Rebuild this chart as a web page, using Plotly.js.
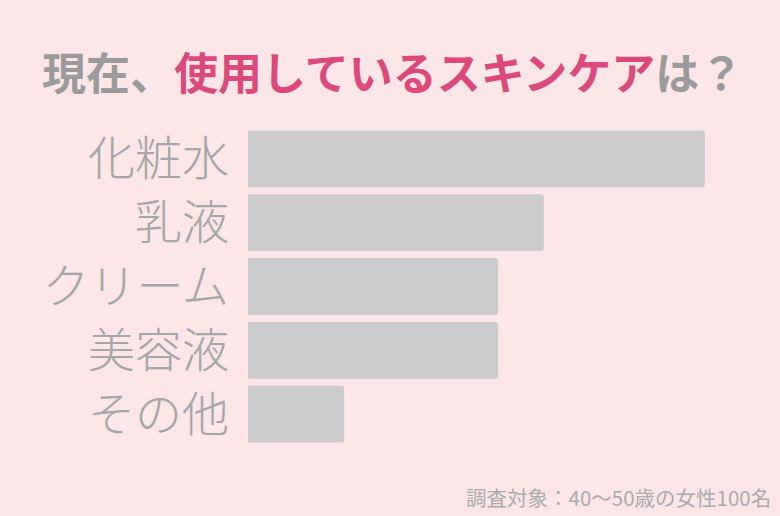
<!DOCTYPE html>
<html>
<head>
<meta charset="utf-8">
<script src="https://cdn.plot.ly/plotly-3.0.1.min.js"></script>
<style>
  html, body { margin: 0; padding: 0; background: #fde6e8; }
  #chart { width: 780px; height: 516px; }
</style>
</head>
<body>
<div id="chart"></div>
<script>
// スキンケアの使用率（調査対象：40〜50歳の女性100名）
const items = ['化粧水', '乳液', 'クリーム', '美容液', 'その他'];
const counts = [95, 61.5, 52, 52, 20];

const trace = {
  type: 'bar',
  orientation: 'h',
  x: counts,
  y: items,
  width: 0.89,
  marker: { color: '#cccccc', cornerradius: 3 },
  hoverinfo: 'x+y',
};

const layout = {
  width: 780,
  height: 516,
  paper_bgcolor: '#fde6e8',
  plot_bgcolor: '#fde6e8',
  margin: { l: 248, r: 51, t: 127, b: 70 },
  font: { family: '"Noto Sans CJK JP", sans-serif', color: '#a3a3a3' },
  title: {
    text: '<b>現在、<span style="color:#dc4a7c">使用しているスキンケア</span>は？</b>',
    font: { size: 44, color: '#9b9b9b' },
    xref: 'container', yref: 'container',
    x: 42 / 780, xanchor: 'left',
    y: 1 - 75 / 516, yanchor: 'middle',
  },
  xaxis: {
    range: [0, 100],
    visible: false,
    fixedrange: true,
  },
  yaxis: {
    autorange: 'reversed',
    showgrid: false,
    zeroline: false,
    showline: false,
    ticks: '',
    ticklabelstandoff: 18,
    tickfont: { size: 47, color: '#a6a6a6', weight: 300 },
  },
  annotations: [{
    text: '調査対象：40〜50歳の女性100名',
    xref: 'paper', yref: 'paper',
    x: (773 - 248) / 481, xanchor: 'right',
    y: -(497 - 446) / 319, yanchor: 'middle',
    showarrow: false,
    font: { size: 20.5, color: '#ababab' },
  }],
  showlegend: false,
  bargap: 0.11,
};

Plotly.newPlot('chart', [trace], layout, { displayModeBar: false, staticPlot: true });
</script>
</body>
</html>
